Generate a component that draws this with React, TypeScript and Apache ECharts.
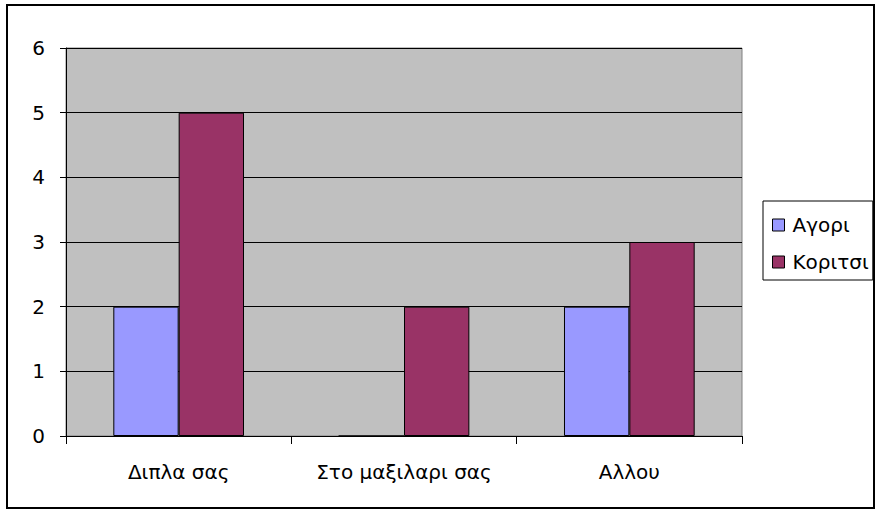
import React, { useEffect, useRef } from "react";
import * as echarts from "echarts";

const categories = ["Διπλα σας", "Στο μαξιλαρι σας", "Αλλου"];
const seriesNames = ["Αγορι", "Κοριτσι"];
const boys = [2, 0, 2];
const girls = [5, 2, 3];
const colors = ["#9999FF", "#993366"];

export default function App() {
  const ref = useRef<HTMLDivElement>(null);
  useEffect(() => {
    if (!ref.current) return;
    const chart = echarts.init(ref.current, undefined, { renderer: "svg" });
    const font = "'DejaVu Sans', sans-serif";
    chart.setOption({
      animation: false,
      backgroundColor: "#ffffff",
      textStyle: { fontFamily: font },
      graphic: [
        {
          type: "rect",
          shape: { x: 7, y: 5, width: 867, height: 503 },
          style: { fill: "none", stroke: "#000", lineWidth: 2 },
          z: -1,
        },
      ],
      grid: {
        left: 66,
        top: 48,
        right: 136,
        bottom: 76,
        show: true,
        backgroundColor: "#C0C0C0",
        borderColor: "#808080",
        borderWidth: 1,
      },
      legend: {
        orient: "vertical",
        left: 763,
        top: 201,
        data: seriesNames,
        icon: "rect",
        itemWidth: 12,
        itemHeight: 12,
        itemGap: 17,
        padding: [14, 4, 8, 9],
        borderColor: "#000",
        borderWidth: 1,
        itemStyle: { borderColor: "#000", borderWidth: 1 },
        textStyle: { fontSize: 20, color: "#000", fontFamily: font, padding: [0, 0, 0, 3] },
      },
      xAxis: {
        type: "category",
        data: categories,
        axisLine: { lineStyle: { color: "#000", width: 1 } },
        axisTick: { show: true, interval: 0, length: 8, lineStyle: { color: "#000" } },
        axisLabel: { fontSize: 20, color: "#000", margin: 26, interval: 0, hideOverlap: false, fontFamily: font },
        splitLine: { show: false },
      },
      yAxis: {
        type: "value",
        min: 0,
        max: 6,
        interval: 1,
        axisLine: { show: true, lineStyle: { color: "#000", width: 1 } },
        axisTick: { show: true, length: 6, lineStyle: { color: "#000" } },
        axisLabel: { fontSize: 20, color: "#000", margin: 21, fontFamily: font },
        splitLine: { show: true, lineStyle: { color: "#000", width: 1 } },
      },
      series: [
        {
          name: seriesNames[0],
          type: "bar",
          data: boys,
          barGap: "0%",
          barCategoryGap: "42%",
          itemStyle: { color: colors[0], borderColor: "#000", borderWidth: 1 },
        },
        {
          name: seriesNames[1],
          type: "bar",
          data: girls,
          barGap: "0%",
          barCategoryGap: "42%",
          itemStyle: { color: colors[1], borderColor: "#000", borderWidth: 1 },
        },
      ],
    });
    return () => chart.dispose();
  }, []);
  return <div ref={ref} style={{ width: 878, height: 512, position: "fixed", left: 0, top: 0 }} />;
}
